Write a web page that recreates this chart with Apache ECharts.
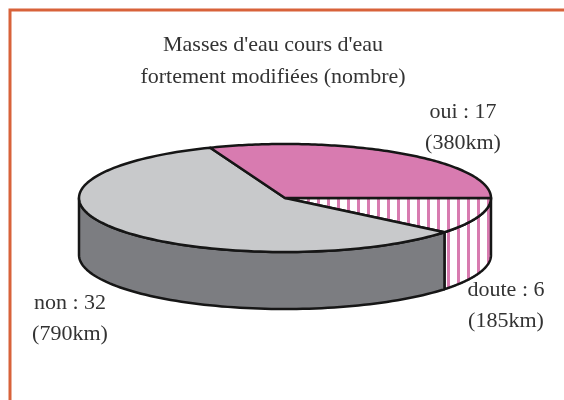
<!DOCTYPE html>
<html>
<head>
<meta charset="utf-8">
<script src="https://cdn.jsdelivr.net/npm/echarts@6/dist/echarts.min.js"></script>
<style>html,body{margin:0;padding:0;background:#fff}#c{width:564px;height:400px}</style>
</head>
<body>
<div id="c"></div>
<script>
// ---- data ----
var categories = ['doute', 'non', 'oui'];
var counts = [6, 32, 17];
var lengthsKm = [185, 790, 380];
var titleLines = ["Masses d'eau cours d'eau", 'fortement modifiées (nombre)'];

// ---- layout / style constants ----
var CX = 285, CY = 198, RX = 206, RY = 54, DEPTH = 57;
var PINK = '#d87bb0';
var labelPos = [[506, 306], [70, 319], [463, 128]];
var FONT = '"Liberation Serif", "Times New Roman", serif';

var stripe = document.createElement('canvas');
stripe.width = 10; stripe.height = 10;
(function () {
  var g = stripe.getContext('2d');
  g.fillStyle = '#ffffff'; g.fillRect(0, 0, 10, 10);
  g.fillStyle = PINK; g.fillRect(7, 0, 3, 10);
})();
var stripeFill = { image: stripe, repeat: 'repeat' };

var topFills = ['stripe', '#c8c9cb', PINK];
var sideFills = ['stripe', '#7c7d81', '#7c7d81'];
function fillOf(f) { return f === 'stripe' ? stripeFill : f; }

var total = counts.reduce(function (a, b) { return a + b; }, 0);
var cum = 0;
var sliceData = counts.map(function (v, i) {
  var d = [v, cum, i];
  cum += v;
  return d;
});

function pt(t, dy) {
  return [CX + RX * Math.cos(t), CY + RY * Math.sin(t) + (dy || 0)];
}
function angles(api) {
  var v = api.value(0), s = api.value(1);
  return [s / total * Math.PI * 2, (s + v) / total * Math.PI * 2];
}

function renderSide(params, api) {
  var a = angles(api);
  var a0 = Math.max(a[0], 0), a1 = Math.min(a[1], Math.PI);
  if (a1 <= a0) return { type: 'group', children: [] };
  var pts = [], n = 80, k;
  for (k = 0; k <= n; k++) pts.push(pt(a0 + (a1 - a0) * k / n));
  for (k = n; k >= 0; k--) pts.push(pt(a0 + (a1 - a0) * k / n, DEPTH));
  var idx = api.value(2);
  return {
    type: 'polygon',
    shape: { points: pts },
    style: { fill: fillOf(sideFills[idx]), stroke: '#161616', lineWidth: 2.5, lineJoin: 'round' }
  };
}

function renderTop(params, api) {
  var a = angles(api);
  var idx = api.value(2);
  var pts = [[CX, CY]], n = 120;
  for (var k = 0; k <= n; k++) pts.push(pt(a[0] + (a[1] - a[0]) * k / n));
  var lp = labelPos[idx];
  return {
    type: 'group',
    children: [
      {
        type: 'polygon',
        shape: { points: pts },
        style: { fill: fillOf(topFills[idx]), stroke: '#161616', lineWidth: 2.5, lineJoin: 'round' }
      },
      {
        type: 'text',
        x: lp[0], y: lp[1],
        style: {
          text: categories[idx] + ' : ' + counts[idx] + '\n(' + lengthsKm[idx] + 'km)',
          fontFamily: FONT, fontSize: 22, lineHeight: 31, fill: '#333333',
          align: 'center', verticalAlign: 'middle'
        }
      }
    ]
  };
}

var chart = echarts.init(document.getElementById('c'), null, { renderer: 'canvas' });
chart.setOption({
  animation: false,
  backgroundColor: '#ffffff',
  graphic: [
    {
      type: 'rect', z: 0,
      shape: { x: 10, y: 10, width: 700, height: 600 },
      style: { fill: 'none', stroke: '#d8623a', lineWidth: 3 }
    },
    {
      type: 'text', x: 273, y: 61,
      style: {
        text: titleLines.join('\n'), fontFamily: FONT, fontSize: 22, lineHeight: 32,
        fill: '#333333', align: 'center', verticalAlign: 'middle'
      }
    }
  ],
  series: [
    { type: 'custom', coordinateSystem: 'none', z: 1, data: sliceData, renderItem: renderSide, silent: true },
    { type: 'custom', coordinateSystem: 'none', z: 2, data: sliceData, renderItem: renderTop, silent: true }
  ]
});
</script>
</body>
</html>
